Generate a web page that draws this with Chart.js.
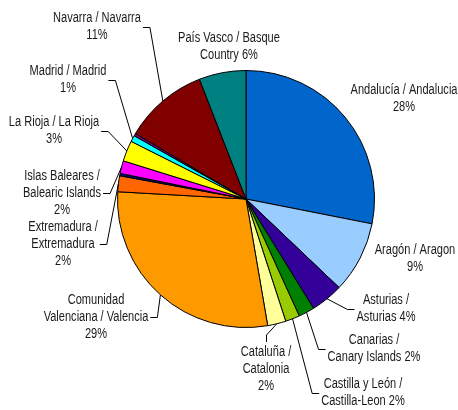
<!DOCTYPE html>
<html>
<head>
<meta charset="utf-8">
<script src="https://cdn.jsdelivr.net/npm/chart.js@4.4.0/dist/chart.umd.min.js"></script>
<style>
  body { margin: 0; background: #fff; }
  #wrap { width: 458px; height: 410px; }
</style>
</head>
<body>
<div id="wrap"><canvas id="pie" width="458" height="410"></canvas></div>
<script>
// regions, clockwise from 12 o'clock
const regions = [
	'Andalucía', 'Aragón', 'Asturias', 'Canarias', 'Castilla y León', 'Cataluña',
	'Comunidad Valenciana', 'Extremadura', 'Galicia', 'Islas Baleares', 'La Rioja',
	'Madrid', 'Murcia', 'Navarra', 'País Vasco',
]
// share of total, %
const shares = [28.1, 9.0, 4.1, 2.0, 1.8, 2.3, 28.6, 2.0, 0.3, 1.6, 2.6, 0.8, 0.3, 10.6, 5.9]

const sliceColors = [
	'#0066cc', '#99ccff', '#330099', '#008000', '#99cc00', '#ffff99',
	'#ff9900', '#ff6600', '#000080', '#ff00ff', '#ffff00',
	'#00ffff', '#800080', '#800000', '#008080',
]

// label text, '#' becomes the rounded percentage; null = no label
const labelLines = [
	['Andalucía / Andalucia', '#'],
	['Aragón / Aragon', '#'],
	['Asturias /', 'Asturias #'],
	['Canarias /', 'Canary Islands #'],
	['Castilla y León /', 'Castilla-Leon #'],
	['Cataluña /', 'Catalonia', '#'],
	['Comunidad', 'Valenciana / Valencia', '#'],
	['Extremadura /', 'Extremadura', '#'],
	null,
	['Islas Baleares /', 'Balearic Islands', '#'],
	['La Rioja / La Rioja', '#'],
	['Madrid / Madrid', '#'],
	null,
	['Navarra / Navarra', '#'],
	['País Vasco / Basque', 'Country #'],
]

// where each label sits (centre x, first line y) and which side the leader leaves from
const labelSpots = [
	{ x: 404, y: 90 },
	{ x: 415, y: 250 },
	{ x: 386, y: 300.5, side: 'left' },
	{ x: 374, y: 340.5, side: 'left' },
	{ x: 363, y: 384.5, side: 'left' },
	{ x: 266, y: 352, side: 'top' },
	{ x: 96, y: 300, side: 'right' },
	{ x: 63, y: 227, side: 'right' },
	null,
	{ x: 62, y: 176, side: 'right' },
	{ x: 54, y: 122, side: 'right' },
	{ x: 68, y: 71, side: 'right' },
	null,
	{ x: 97, y: 18, side: 'right' },
	{ x: 229, y: 38 },
]

// no narrow face installed, so squeeze a regular one horizontally
const FONT = "14px 'Liberation Sans', Arial, sans-serif"
const SQUEEZE = 0.79
const LINE_H = 17

const sliceLabels = {
	id: 'sliceLabels',
	afterDatasetsDraw(chart) {
		const ctx = chart.ctx
		const arcs = chart.getDatasetMeta(0).data
		const total = shares.reduce((a, b) => a + b, 0)

		ctx.save()
		ctx.font = FONT
		ctx.fillStyle = '#1a1a1a'
		ctx.strokeStyle = '#000'
		ctx.lineWidth = 1
		ctx.textAlign = 'center'
		ctx.textBaseline = 'middle'

		const drawText = (t, x, y) => {
			ctx.save()
			ctx.translate(x, y)
			ctx.scale(SQUEEZE, 1)
			ctx.fillText(t, 0, 0)
			ctx.restore()
		}

		arcs.forEach((arc, i) => {
			const lines = labelLines[i]
			const spot = labelSpots[i]
			if (!lines || !spot) return

			const pct = Math.round((shares[i] / total) * 100) + '%'
			const text = lines.map(l => l.replace('#', pct))
			text.forEach((t, k) => drawText(t, spot.x, spot.y + k * LINE_H))

			if (!spot.side) return

			// leader: short stub off the label, then straight to the slice edge
			const { x, y, startAngle, endAngle, outerRadius } = arc.getProps(
				['x', 'y', 'startAngle', 'endAngle', 'outerRadius'], true)
			const mid = (startAngle + endAngle) / 2
			const ex = x + Math.cos(mid) * outerRadius
			const ey = y + Math.sin(mid) * outerRadius

			const w = Math.max(...text.map(t => ctx.measureText(t).width)) * SQUEEZE
			const cy = Math.round(spot.y + ((text.length - 1) * LINE_H) / 2) + 0.5
			let sx, sy, kx, ky
			if (spot.side === 'right') {
				sx = spot.x + w / 2 + 2
				kx = sx + 7
				sy = ky = cy
			} else if (spot.side === 'left') {
				sx = spot.x - w / 2 - 2
				kx = sx - 7
				sy = ky = cy
			} else {
				sx = kx = Math.round(spot.x) + 0.5
				sy = spot.y - 10
				ky = sy - 7
			}
			ctx.beginPath()
			ctx.moveTo(sx, sy)
			ctx.lineTo(kx, ky)
			ctx.lineTo(ex, ey)
			ctx.stroke()
		})
		ctx.restore()
	},
}

new Chart(document.getElementById('pie'), {
	type: 'pie',
	data: {
		labels: regions,
		datasets: [
			{
				data: shares,
				backgroundColor: sliceColors,
				borderColor: '#000',
				borderWidth: 1,
			},
		],
	},
	options: {
		responsive: false,
		animation: false,
		devicePixelRatio: 1,
		layout: { padding: { left: 117, right: 83, top: 70, bottom: 82 } },
		plugins: {
			legend: { display: false },
			tooltip: { enabled: false },
		},
	},
	plugins: [sliceLabels],
})
</script>
</body>
</html>
